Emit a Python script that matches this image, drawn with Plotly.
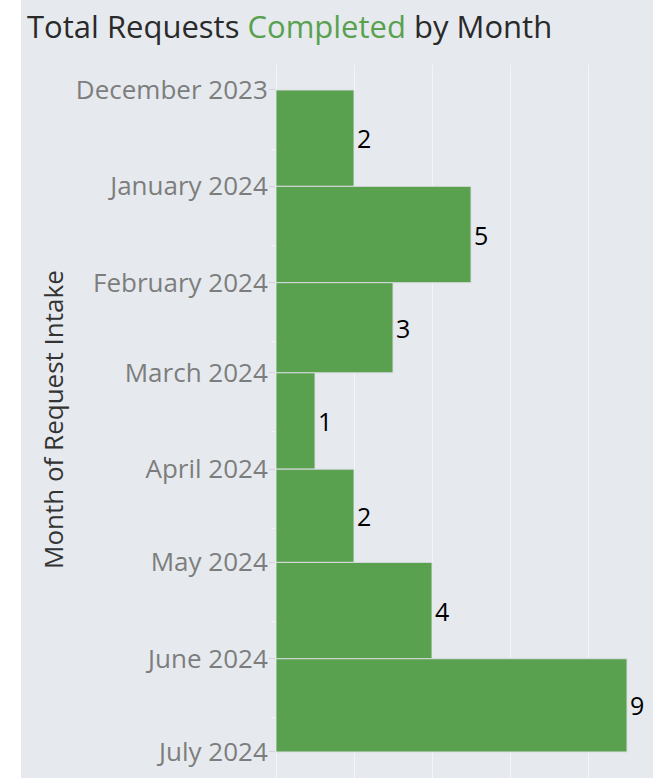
import pandas as pd
import plotly.graph_objects as go

months = ["2023-12-01", "2024-01-01", "2024-02-01", "2024-03-01",
          "2024-04-01", "2024-05-01", "2024-06-01"]
completed = [2, 5, 3, 1, 2, 4, 9]
tick_dates = ["2023-12-01", "2024-01-01", "2024-02-01", "2024-03-01",
              "2024-04-01", "2024-05-01", "2024-06-01", "2024-07-01"]
tick_labels = ["December 2023", "January 2024", "February 2024", "March 2024",
               "April 2024", "May 2024", "June 2024", "July 2024"]

starts = pd.to_datetime(months)
ends = starts + pd.offsets.MonthBegin(1)
widths = [(e - s).total_seconds() * 1000 for s, e in zip(starts, ends)]
minor_vals = [(s + pd.Timedelta(days=19)).strftime("%Y-%m-%d") for s in starts]

W, H = 653, 778
L, R, T, B = 276, 0, 65, 0
pw, ph = W - L - R, H - T - B

BG = "#e6eaef"
GREEN = "#59a14f"

fig = go.Figure()
fig.add_trace(go.Bar(
    orientation="h",
    x=completed,
    y=list(starts),
    width=widths,
    offset=0,
    marker=dict(color=GREEN, line=dict(color="#d8dbdf", width=1)),
    text=[str(v) for v in completed],
    textposition="outside",
    textfont=dict(family="Open Sans", size=25, color="#000000"),
    cliponaxis=False,
    hoverinfo="skip",
))

fig.update_layout(
    width=W, height=H,
    margin=dict(l=L, r=R, t=T, b=B, pad=0),
    paper_bgcolor=BG,
    plot_bgcolor=BG,
    showlegend=False,
    font=dict(family="Open Sans"),
    title=dict(
        text="Total Requests <span style='color:#59a14f'>Completed</span> by Month",
        xref="container", yref="container",
        x=27 / W, y=1 - 27 / H, xanchor="left", yanchor="middle",
        font=dict(family="Open Sans", size=31, color="#2a2a2a"),
    ),
    xaxis=dict(
        range=[0, pw / 39.0],
        dtick=2, tick0=0,
        showgrid=True, gridcolor="#f3f5f8", gridwidth=1,
        zeroline=True, zerolinecolor="#f3f5f8", zerolinewidth=1,
        showticklabels=False, ticks="",
        fixedrange=True,
    ),
    yaxis=dict(
        type="date",
        range=["2024-07-09 09:00", "2023-11-22 23:00"],
        tickmode="array",
        tickvals=tick_dates,
        ticktext=tick_labels,
        ticks="outside", ticklen=6, tickcolor="#d0d3d8", tickwidth=1,
        ticklabelstandoff=-4,
        tickfont=dict(family="Open Sans", size=26, color="#7d7d7d"),
        showgrid=False, zeroline=False,
        minor=dict(tickvals=minor_vals, ticks="outside", ticklen=3,
                   tickcolor="#f5f6f8", showgrid=False),
    ),
    shapes=[dict(
        type="rect", xref="paper", yref="paper",
        x0=-L / pw, x1=(21 - L) / pw, y0=-0.05, y1=1 + T / ph + 0.05,
        fillcolor="#ffffff", line=dict(width=0), layer="above",
    )],
    annotations=[dict(
        text="Month of Request Intake",
        xref="paper", yref="paper",
        x=(53 - L) / pw, y=(H - 419) / ph,
        xanchor="center", yanchor="middle",
        textangle=-90, showarrow=False,
        font=dict(family="Open Sans", size=26, color="#333333"),
    )],
)

fig.write_html(
    "out.html",
    config={"displayModeBar": False, "staticPlot": True},
    post_script="document.body.style.margin='0';document.body.style.overflow='hidden';",
)
